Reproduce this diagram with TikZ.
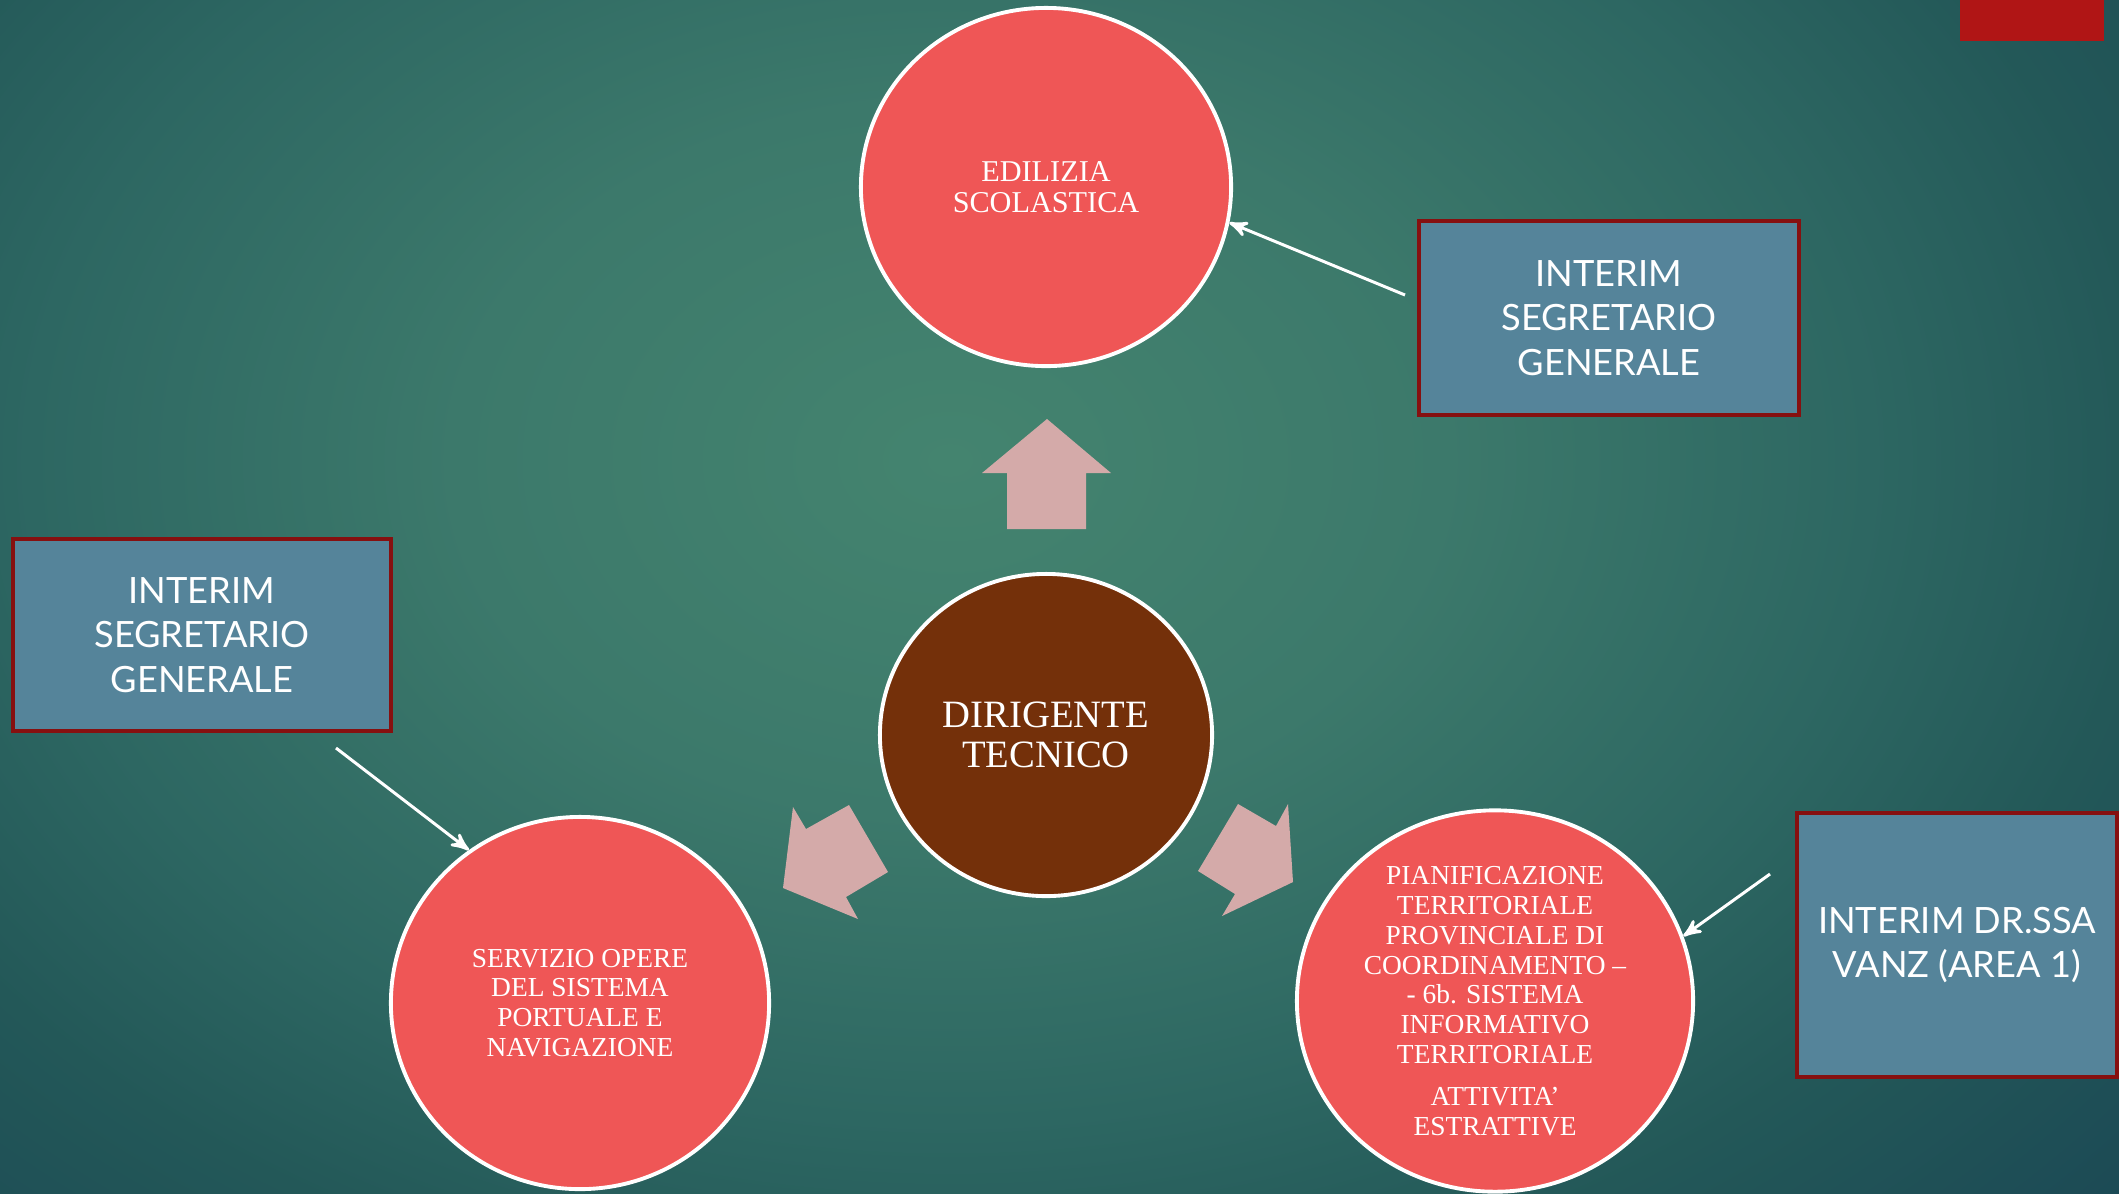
\documentclass[tikz,border=0pt]{standalone}
\usepackage{fontspec}
\setmainfont{Liberation Serif}
\newfontfamily\boxfont{Lato}
\usepackage{xcolor}
\usetikzlibrary{arrows,shapes.geometric}

\definecolor{bgA}{HTML}{44846F}
\definecolor{bgB}{HTML}{3C796B}
\definecolor{bgC}{HTML}{2D6762}
\definecolor{bgD}{HTML}{235858}
\definecolor{bgE}{HTML}{1C4A55}
\definecolor{bgF}{HTML}{184450}
\definecolor{circred}{HTML}{EF5656}
\definecolor{darkbrown}{HTML}{74300A}
\definecolor{boxblue}{HTML}{55849A}
\definecolor{boxborder}{HTML}{861010}
\definecolor{blockpink}{HTML}{D4AAA9}
\definecolor{cornerred}{HTML}{B01515}

\pgfdeclareradialshading{slidebg}{\pgfpoint{0bp}{0bp}}{color(0bp)=(bgA); color(10.5bp)=(bgB); color(19.5bp)=(bgC); color(25.5bp)=(bgD); color(33bp)=(bgE); color(39bp)=(bgF); color(50bp)=(bgF)}

\begin{document}
\begin{tikzpicture}[x=0.01cm,y=-0.01cm,>=stealth']
\tikzstyle{office}=[ellipse,draw=white,line width=1.1pt,fill=circred,text=white,align=center,inner sep=0pt]
\tikzstyle{interim}=[rectangle,draw=boxborder,line width=1.15pt,fill=boxblue,text=white,align=center,font={\boxfont\fontsize{10.3}{12.7}\selectfont}]
\tikzstyle{pointer}=[draw=white,line width=0.85pt,->]
\tikzstyle{bigarrow}=[fill=blockpink]
\useasboundingbox (0,0) rectangle (2119,1193);
\begin{scope}
  \clip (0,0) rectangle (2119,1193);
  \shade[shading=slidebg] (-229,-389) rectangle (2129,1309);
\end{scope}
\fill[cornerred] (1960,0) rectangle (2104,41);
% offices
\node[office,minimum width=3.7cm,minimum height=3.58cm,font={\fontsize{8.6}{8.8}\selectfont}] (edilizia) at (1046,187) {EDILIZIA\\SCOLASTICA};
\node[office,fill=darkbrown,minimum width=3.32cm,minimum height=3.22cm,font={\fontsize{11}{11.4}\selectfont}] (dirigente) at (1046,735) {DIRIGENTE\\TECNICO};
\node[office,minimum width=3.78cm,minimum height=3.72cm,font={\fontsize{7.8}{8.5}\selectfont}] (servizio) at (580,1003) {SERVIZIO OPERE\\DEL SISTEMA\\PORTUALE E\\NAVIGAZIONE};
\node[office,minimum width=3.96cm,minimum height=3.78cm,font={\fontsize{7.8}{8.5}\selectfont}] (pianificazione) at (1495,1001) {PIANIFICAZIONE\\TERRITORIALE\\PROVINCIALE DI\\COORDINAMENTO --\\- 6b. SISTEMA\\INFORMATIVO\\TERRITORIALE\\[3.4pt]ATTIVITA’\\ESTRATTIVE};
% interim boxes
\node[interim,minimum width=3.79cm,minimum height=1.93cm] (segretario1) at (1609,318) {INTERIM\\SEGRETARIO\\GENERALE};
\node[interim,minimum width=3.78cm,minimum height=1.92cm] (segretario2) at (202,635) {INTERIM\\SEGRETARIO\\GENERALE};
\node[interim,minimum width=3.19cm,minimum height=2.64cm] (vanz) at (1957,945) {INTERIM DR.SSA\\VANZ (AREA 1)};
% block arrows
\fill[bigarrow] (1047,419) -- (1111,473) -- (1086,473) -- (1086,529) -- (1007,529) -- (1007,473) -- (982,473) -- cycle;
\fill[bigarrow] (793,807) -- (806,829) -- (849,805) -- (888,872) -- (846,897) -- (858,919) -- (783,888) -- cycle;
\fill[bigarrow] (1288,804) -- (1293,882) -- (1222,916) -- (1235,894) -- (1198,871) -- (1238,804) -- (1276,826) -- cycle;
% pointers
\coordinate (from1) at (1405,295);
\coordinate (from2) at (336,748);
\coordinate (from3) at (1770,874);
\path[pointer] (from1) to (edilizia.-11);
\path[pointer] (from2) to (servizio.126);
\path[pointer] (from3) to (pianificazione.19);
\end{tikzpicture}
\end{document}
